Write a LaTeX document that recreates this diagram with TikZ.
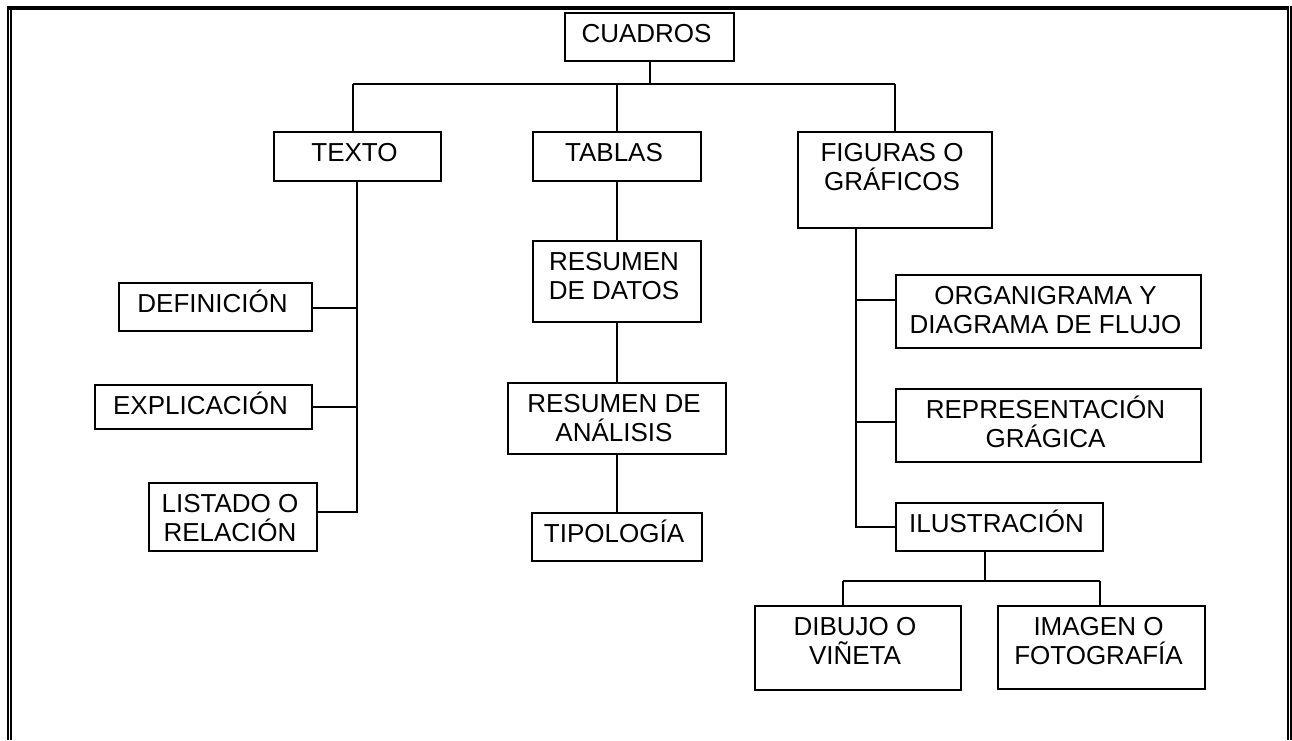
\documentclass[tikz,border=0pt]{standalone}
\usepackage{fontspec}
\setmainfont{Liberation Sans}
\newcommand\mlines[1]{\vtop{\baselineskip=29pt\lineskiplimit=-\maxdimen\lineskip=0pt\halign{\hfil##\hfil\cr#1\crcr}}}
\tikzset{
  box/.style={draw=black, line width=1.6pt, rectangle, inner sep=0pt, fill=white},
  lbl/.style={anchor=base, inner sep=0pt, font=\fontsize{26}{29}\selectfont},
  conn/.style={draw=black, line width=1.5pt},
  frameline/.style={draw=black, line cap=butt}
}
\newcommand\bx[6]{%
  \node[box, minimum width={(#4-#2)*1pt}, minimum height={(#5-#3)*1pt}] (#1) at ({(#2+#4)/2},{(#3+#5)/2}) {};
  \node[lbl] (#1-t) at ({(#2+#4)/2-3},{#3+29.6}) {\mlines{#6}};
}
\begin{document}
\begin{tikzpicture}[x=1pt,y=-1pt]
\useasboundingbox (0,0) rectangle (1292,740);
\fill[white] (0,0) rectangle (1292,740);
% frame
\draw[frameline, line width=4pt] (7.3,8) -- (1288.8,8);
\draw[frameline, line width=2.2pt] (8.3,6) -- (8.3,740);
\draw[frameline, line width=1.7pt] (11.1,10) -- (11.1,740);
\draw[frameline, line width=1.5pt] (1288,10) -- (1288,740);
\draw[frameline, line width=1.8pt] (1290.8,6) -- (1290.8,740);

% junction coordinates
\coordinate (busC) at (650,84);
\coordinate (busL) at (353,84);
\coordinate (busT) at (617,84);
\coordinate (busR) at (895,84);
\coordinate (tEnd) at (357,512);
\coordinate (tDef) at (357,308);
\coordinate (tExp) at (357,407);
\coordinate (fOrg) at (856,300);
\coordinate (fRep) at (856,422);
\coordinate (fEnd) at (856,527);
\coordinate (iStem) at (985,581);
\coordinate (iL) at (843,581);
\coordinate (iR) at (1100,581);

% connectors (drawn first, boxes on top)
\path (0,0);
\bx{cuadros}{565}{13}{734}{61}{CUADROS}
\bx{texto}{274}{132}{441}{181}{TEXTO}
\bx{tablas}{533}{132}{701}{181}{TABLAS}
\bx{figuras}{798}{132}{992}{228}{FIGURAS O\cr GRÁFICOS}
\bx{definicion}{119}{283}{312}{331}{DEFINICIÓN}
\bx{explicacion}{95}{385}{312}{429}{EXPLICACIÓN}
\bx{listado}{149}{483}{317}{551}{LISTADO O\cr RELACIÓN}
\bx{resdatos}{533}{241}{701}{322}{RESUMEN\cr DE DATOS}
\bx{resanal}{508}{383}{726}{454}{RESUMEN DE\cr ANÁLISIS}
\bx{tipologia}{532}{513}{702}{561}{TIPOLOGÍA}
\bx{organ}{896}{275}{1201}{348}{ORGANIGRAMA Y\cr DIAGRAMA DE FLUJO}
\bx{repre}{896}{389}{1201}{462}{REPRESENTACIÓN\cr GRÁGICA}
\bx{ilus}{896}{503}{1103}{551}{ILUSTRACIÓN}
\bx{dibujo}{755}{606}{961}{690}{DIBUJO O\cr VIÑETA}
\bx{imagen}{998}{606}{1205}{689}{IMAGEN O\cr FOTOGRAFÍA}

% top level
\draw[conn] (cuadros.south -| busC) -- (busC);
\draw[conn] (busL) -- (busR);
\draw[conn] (busL) -- (busL |- texto.north);
\draw[conn] (busT) -- (busT |- tablas.north);
\draw[conn] (busR) -- (busR |- figuras.north);
% texto branch
\draw[conn] (texto.south -| tEnd) -- (tEnd) -- (tEnd -| listado.east);
\draw[conn] (tDef) -- (tDef -| definicion.east);
\draw[conn] (tExp) -- (tExp -| explicacion.east);
% tablas branch
\draw[conn] (tablas.south) -- (resdatos.north);
\draw[conn] (resdatos.south) -- (resanal.north);
\draw[conn] (resanal.south) -- (tipologia.north);
% figuras branch
\draw[conn] (figuras.south -| fEnd) -- (fEnd) -- (fEnd -| ilus.west);
\draw[conn] (fOrg) -- (fOrg -| organ.west);
\draw[conn] (fRep) -- (fRep -| repre.west);
% ilustracion branch
\draw[conn] (ilus.south -| iStem) -- (iStem);
\draw[conn] (iL) -- (iR);
\draw[conn] (iL) -- (iL |- dibujo.north);
\draw[conn] (iR) -- (iR |- imagen.north);
\end{tikzpicture}
\end{document}
